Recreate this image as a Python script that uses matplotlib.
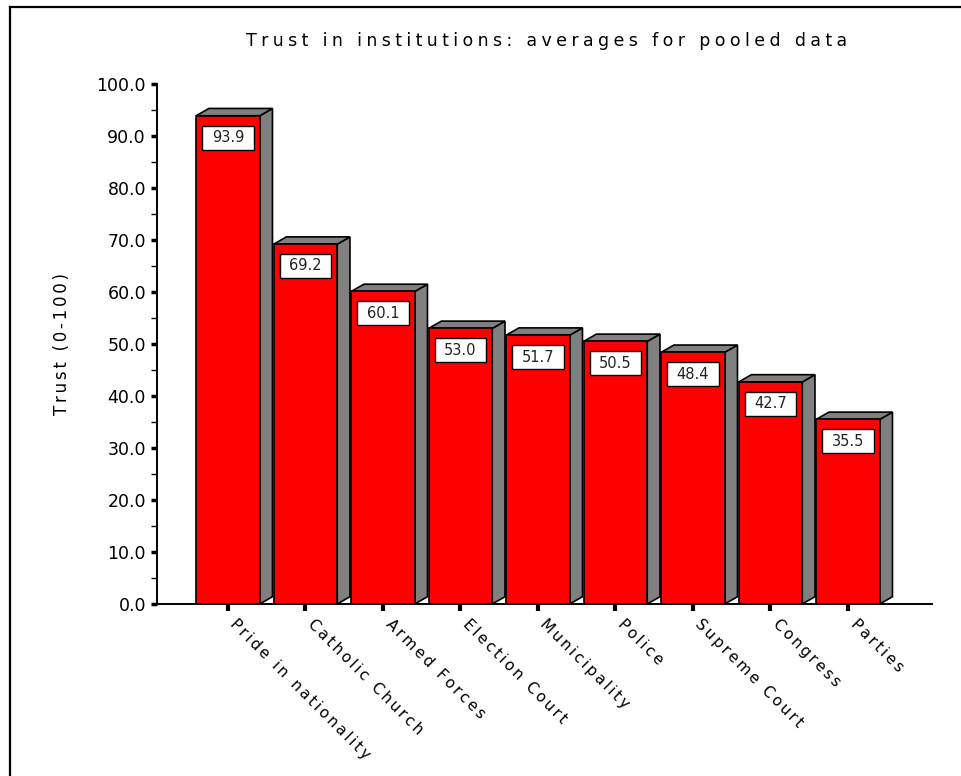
import matplotlib
matplotlib.use("Agg")
import matplotlib.pyplot as plt
import matplotlib.transforms as mtransforms
from matplotlib.patches import Polygon, Rectangle
from matplotlib.lines import Line2D
from matplotlib.ticker import MultipleLocator, FormatStrFormatter

plt.rcParams["font.family"] = ["DejaVu Sans"]

categories = ["Pride in nationality", "Catholic Church", "Armed Forces", "Election Court",
              "Municipality", "Police", "Supreme Court", "Congress", "Parties"]
trust = [93.9, 69.2, 60.1, 53.0, 51.7, 50.5, 48.4, 42.7, 35.5]

SIX_PER_EM = "\u2006"
FOUR_PER_EM = "\u2005"


def spaced(s, sp=SIX_PER_EM):
    # fake letter spacing by putting a narrow space between characters
    return sp.join(s)


W, H = 961, 776
fig = plt.figure(figsize=(W / 100, H / 100), dpi=100)
ax = fig.add_axes([157 / W, 1 - 604 / H, (932 - 157) / W, (604 - 84) / H])

bar_w = 0.82
dx, dy = 0.164, 1.4  # depth of the 3d look, in data units

x = list(range(len(categories)))
ax.bar(x, trust, width=bar_w, color="#ff0000", edgecolor="black", linewidth=1.2, zorder=3)

for xi, h in zip(x, trust):
    x0, x1 = xi - bar_w / 2, xi + bar_w / 2
    side = Polygon([(x1, 0), (x1 + dx, dy), (x1 + dx, h + dy), (x1, h)], closed=True,
                   facecolor="#808080", edgecolor="black", linewidth=1.2, zorder=2)
    top = Polygon([(x0, h), (x0 + dx, h + dy), (x1 + dx, h + dy), (x1, h)], closed=True,
                  facecolor="#808080", edgecolor="black", linewidth=1.2, zorder=2)
    ax.add_patch(side)
    ax.add_patch(top)
    # value label box
    bw, bh = 0.66, 4.6
    cy = h - 4.2
    ax.add_patch(Rectangle((xi - bw / 2, cy - bh / 2), bw, bh, facecolor="white",
                           edgecolor="black", linewidth=1.0, zorder=4))
    ax.text(xi, cy, f"{h:.1f}", ha="center", va="center", fontsize=10.5,
            color="#222222", zorder=5)

ax.set_xlim(-0.916, 9.084)
ax.set_ylim(0, 100)

ax.spines["top"].set_visible(False)
ax.spines["right"].set_visible(False)
ax.spines["left"].set_linewidth(1.4)
ax.spines["bottom"].set_linewidth(1.4)

ax.yaxis.set_major_locator(MultipleLocator(10))
ax.yaxis.set_minor_locator(MultipleLocator(5))
ax.yaxis.set_major_formatter(FormatStrFormatter("%.1f"))
ax.tick_params(axis="y", which="major", direction="out", length=4, width=2.5,
               labelsize=12.5, pad=4)
ax.tick_params(axis="y", which="minor", direction="out", length=4, width=1)

ax.set_xticks(x)
ax.set_xticklabels([spaced(c) for c in categories])
ax.tick_params(axis="x", direction="out", length=5, width=3, labelsize=11, pad=4)
shift = mtransforms.ScaledTranslation(10 / 100, 0, fig.dpi_scale_trans)
for lbl in ax.get_xticklabels():
    lbl.set_rotation(-45)
    lbl.set_ha("left")
    lbl.set_va("top")
    lbl.set_rotation_mode("anchor")
    lbl.set_transform(lbl.get_transform() + shift)

ax.set_ylabel(spaced("Trust (0-100)"), fontsize=12, labelpad=18)

fig.text(547 / W, 1 - 46 / H, spaced("Trust in institutions: averages for pooled data", FOUR_PER_EM),
         ha="center", va="baseline", fontsize=12.5)

# outer frame (only top and left edges show)
fig.add_artist(Line2D([10 / W, 1], [1 - 7 / H, 1 - 7 / H], transform=fig.transFigure,
                      color="black", linewidth=1.6))
fig.add_artist(Line2D([10 / W, 10 / W], [0, 1 - 7 / H], transform=fig.transFigure,
                      color="black", linewidth=1.6))

fig.savefig("out.png", dpi=100)
